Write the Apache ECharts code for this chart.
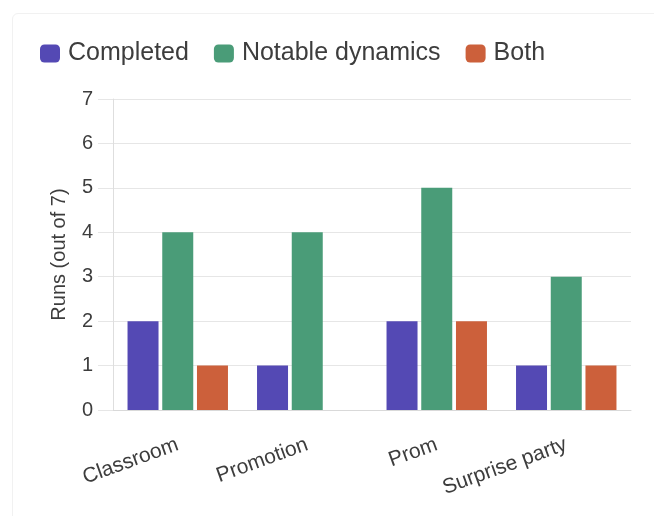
<!DOCTYPE html>
<html>
<head>
<meta charset="utf-8">
<script src="https://cdn.jsdelivr.net/npm/echarts@6/dist/echarts.min.js"></script>
<style>
  html, body { margin: 0; padding: 0; background: #fff; }
  #card { position: absolute; left: 12px; top: 13px; width: 660px; height: 520px;
          border: 1px solid #f1f1f1; border-radius: 6px; }
  #main { position: absolute; left: 0; top: 0; width: 654px; height: 516px; }
</style>
</head>
<body>
<div id="card"></div>
<div id="main"></div>
<script>
var categories = ['Classroom', 'Promotion', 'Prom', 'Surprise party'];
var completed = [2, 1, 2, 1];
var notable = [4, 4, 5, 3];
var both = [1, 0, 2, 1];
var seriesNames = ['Completed', 'Notable dynamics', 'Both'];
var colors = ['#5449b4', '#4a9c78', '#cc603b'];

var chartDom = document.getElementById('main');
var myChart = echarts.init(chartDom);
var option;

function bar(name, data, color) {
    return {
        name: name,
        type: 'bar',
        data: data,
        barWidth: 31,
        barGap: '12%',
        itemStyle: { color: color },
        emphasis: { disabled: true }
    };
}

option = {
    textStyle: { fontFamily: 'Liberation Sans, Arial, sans-serif' },
    legend: {
        left: 35,
        top: 36,
        itemWidth: 20,
        itemHeight: 18,
        itemGap: 25,
        icon: 'roundRect',
        textStyle: { fontSize: 25, color: '#3d3d3d', padding: [0, 0, 0, 3] },
        data: seriesNames
    },
    grid: { left: 113, right: 23, top: 99, bottom: 106 },
    xAxis: {
        type: 'category',
        data: categories,
        axisLine: { lineStyle: { color: '#d9d9d9' } },
        axisTick: { show: false },
        axisLabel: {
            rotate: 20,
            fontSize: 21,
            color: '#3d3d3d',
            margin: 34,
            interval: 0
        }
    },
    yAxis: {
        type: 'value',
        min: 0,
        max: 7,
        interval: 1,
        name: 'Runs (out of 7)',
        nameLocation: 'middle',
        nameGap: 44,
        nameTextStyle: { fontSize: 20, color: '#3d3d3d' },
        axisLine: { show: true, lineStyle: { color: '#dedede' } },
        axisTick: { show: true, length: 15, lineStyle: { color: '#e6e6e6' } },
        axisLabel: { fontSize: 20, color: '#3d3d3d', margin: 20 },
        splitLine: { lineStyle: { color: '#e6e6e6' } }
    },
    series: [
        bar(seriesNames[0], completed, colors[0]),
        bar(seriesNames[1], notable, colors[1]),
        bar(seriesNames[2], both, colors[2])
    ]
};

option && myChart.setOption(option);
</script>
</body>
</html>
